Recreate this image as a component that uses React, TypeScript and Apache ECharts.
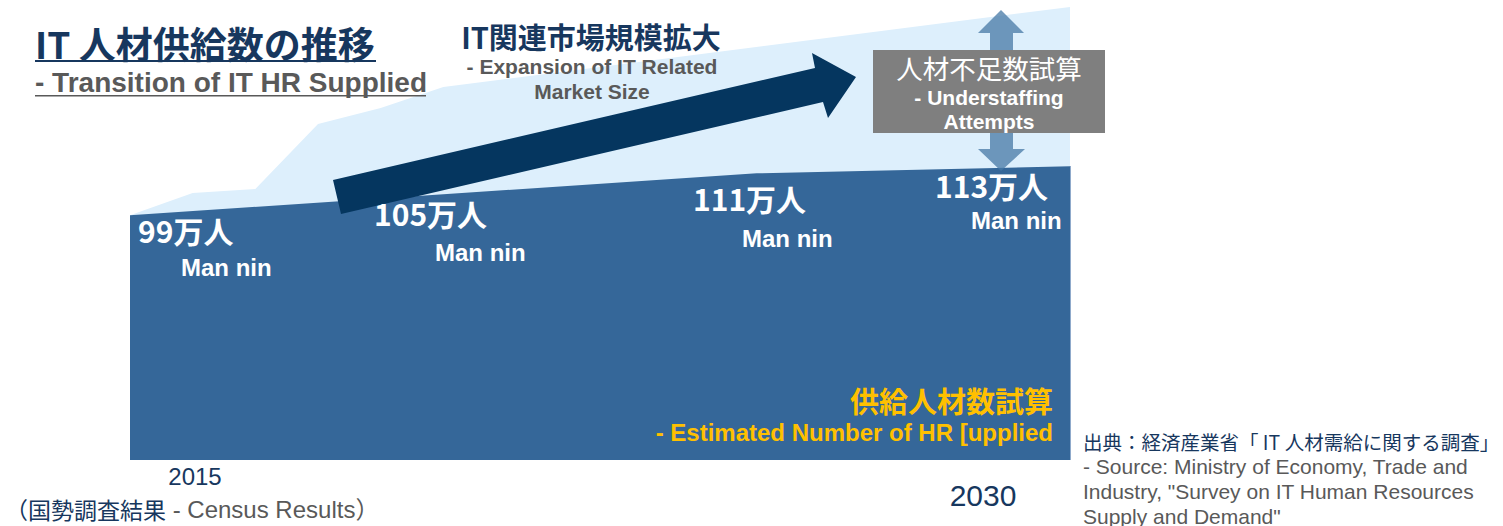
import React, { useEffect, useRef } from "react";
import * as echarts from "echarts";

// ---- data ----
const supplyYears = [2015, 2020, 2025, 2030];
const supplyValues = [99, 105, 111, 113];
const marketYears = [2015, 2016, 2017, 2018, 2019, 2020, 2030];
const marketValues = [99, 105.4, 106.5, 125.1, 129.7, 135.7, 158.6];
const unitJa = "万人";
const unitEn = "Man nin";
const axisLabels = ["2015", "2030"];
const censusNoteJa = "（国勢調査結果";
const censusNoteEn = " - Census Results）";
const titleJa = "IT 人材供給数の推移";
const titleEn = "- Transition of IT HR Supplied";
const marketJa = "IT関連市場規模拡大";
const marketEn = ["- Expansion of IT Related", "Market Size"];
const shortageJa = "人材不足数試算";
const shortageEn = ["- Understaffing", "Attempts"];
const supplyJa = "供給人材数試算";
const supplyEn = "- Estimated Number of HR [upplied";
const sourceJa = "出典：経済産業省「 IT 人材需給に関する調査」";
const sourceEn = [
  "- Source: Ministry of Economy, Trade and",
  "Industry, \"Survey on IT Human Resources",
  "Supply and Demand\"",
];

const NAVY = "#17375E";
const GRAY = "#595959";
const LAT = "'Liberation Sans', Arial, 'Noto Sans CJK JP', sans-serif";
const CJK = "'Noto Sans CJK JP', 'Liberation Sans', sans-serif";

const labelPos = [
  { nx: 138, ny: 230, ex: 181, ey: 267 },
  { nx: 374, ny: 213, ex: 435, ey: 252 },
  { nx: 693, ny: 198, ex: 742, ey: 238 },
  { nx: 935, ny: 185, ex: 971, ey: 220 },
];

export default function App() {
  const ref = useRef<HTMLDivElement>(null);
  useEffect(() => {
    if (!ref.current) return;
    const chart = echarts.init(ref.current, null, { renderer: "svg" });

    const txt = (x: number, y: number, text: string, size: number, fill: string, opts: any = {}) => ({
      type: "text",
      z: 100,
      x,
      y,
      style: {
        text,
        fill,
        fontSize: size,
        fontWeight: opts.weight ?? "bold",
        fontFamily: opts.family ?? LAT,
        align: opts.align ?? "left",
        verticalAlign: "middle",
      },
    });

    const graphics: any[] = [];
    // title
    graphics.push(txt(35, 43, titleJa, 37, NAVY, { family: CJK }));
    graphics.push({ type: "rect", z: 100, shape: { x: 35, y: 60, width: 341, height: 2 }, style: { fill: NAVY } });
    graphics.push(txt(35, 82, titleEn, 28, GRAY));
    graphics.push({ type: "rect", z: 100, shape: { x: 35, y: 95, width: 391, height: 1.5 }, style: { fill: GRAY } });
    // market expansion
    graphics.push(txt(591, 36, marketJa, 29, NAVY, { family: CJK, align: "center" }));
    graphics.push(txt(592, 66, marketEn[0], 21, GRAY, { align: "center" }));
    graphics.push(txt(592, 91, marketEn[1], 21, GRAY, { align: "center" }));
    // big arrow
    graphics.push({
      type: "polygon",
      z: 90,
      shape: { points: [[333, 180], [815, 68], [812, 53], [856, 77], [828, 118], [823, 102], [341, 214]] },
      style: { fill: "#05365F" },
    });
    // double arrow
    graphics.push({
      type: "polygon",
      z: 95,
      shape: {
        points: [[1001, 10], [1024, 33], [1013, 33], [1013, 149], [1025, 149], [1001, 171], [978, 149], [990, 149], [990, 33], [978, 33]],
      },
      style: { fill: "rgba(70,120,165,0.75)" },
    });
    // gray box
    graphics.push({ type: "rect", z: 98, shape: { x: 873, y: 50, width: 232, height: 83 }, style: { fill: "#7F7F7F" } });
    graphics.push(txt(989, 67, shortageJa, 26.5, "#ffffff", { family: CJK, align: "center", weight: "normal" }));
    graphics.push(txt(989, 97, shortageEn[0], 21, "#ffffff", { align: "center" }));
    graphics.push(txt(989, 121, shortageEn[1], 21, "#ffffff", { align: "center" }));
    // value labels
    supplyValues.forEach((v, i) => {
      const p = labelPos[i];
      graphics.push(txt(p.nx, p.ny, `${v}${unitJa}`, 30, "#ffffff", { family: CJK }));
      graphics.push(txt(p.ex, p.ey, unitEn, 24, "#ffffff"));
    });
    // supply estimate label
    graphics.push(txt(1053, 400, supplyJa, 29, "#FFC000", { family: CJK, align: "right" }));
    graphics.push(txt(1053, 432, supplyEn, 24, "#FFC000", { align: "right" }));
    // axis labels
    graphics.push(txt(195, 476, axisLabels[0], 24, NAVY, { align: "center", weight: "normal" }));
    graphics.push({
      type: "text",
      z: 100,
      x: 5,
      y: 509,
      style: {
        text: `{a|${censusNoteJa}}{b|${censusNoteEn}}`,
        verticalAlign: "middle",
        rich: {
          a: { fill: NAVY, fontSize: 23, fontFamily: CJK },
          b: { fill: GRAY, fontSize: 24, fontFamily: LAT },
        },
      },
    });
    graphics.push(txt(983, 495, axisLabels[1], 30, NAVY, { align: "center", weight: "normal" }));
    // source
    graphics.push(txt(1083, 441, sourceJa, 19.5, NAVY, { family: CJK, weight: "normal" }));
    sourceEn.forEach((s, i) => graphics.push(txt(1083, 466 + i * 25, s, 21, GRAY, { weight: "normal" })));
    // right edge line of supply area
    graphics.push({ type: "line", z: 80, shape: { x1: 1070.5, y1: 166, x2: 1070.5, y2: 460 }, style: { stroke: "#8FAACB", lineWidth: 1 } });

    chart.setOption({
      animation: false,
      grid: { left: 130, right: 433, top: 2, bottom: 66 },
      xAxis: { type: "value", min: 2015, max: 2030, show: false },
      yAxis: { type: "value", min: 29, max: 160, show: false },
      series: [
        {
          type: "line",
          data: marketYears.map((y, i) => [y, marketValues[i]]),
          showSymbol: false,
          lineStyle: { width: 0 },
          itemStyle: { color: "#DDEFFC" },
          areaStyle: { color: "#DDEFFC", opacity: 1, origin: "start" },
          z: 1,
        },
        {
          type: "line",
          data: supplyYears.map((y, i) => [y, supplyValues[i]]),
          showSymbol: false,
          lineStyle: { width: 0 },
          itemStyle: { color: "#356799" },
          areaStyle: { color: "#356799", opacity: 1, origin: "start" },
          z: 2,
        },
      ],
      graphic: graphics,
    });
    return () => chart.dispose();
  }, []);
  return <div ref={ref} style={{ position: "fixed", left: 0, top: 0, width: 1503, height: 526, background: "#fff" }} />;
}
